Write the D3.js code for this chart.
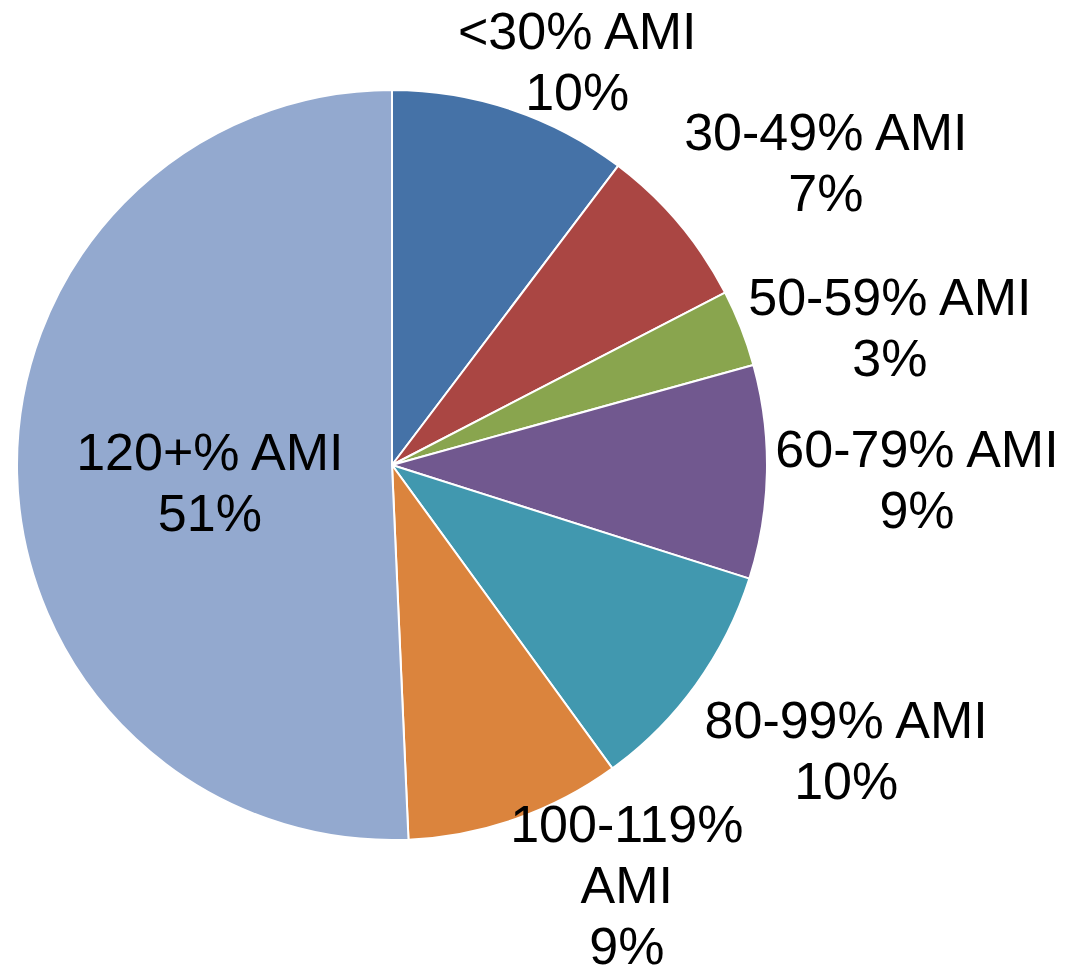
<!DOCTYPE html>
<html>
<head>
<meta charset="utf-8">
<script src="https://cdn.jsdelivr.net/npm/d3@7"></script>
<style>
  html, body { margin: 0; padding: 0; background: #fff; }
  svg { display: block; }
</style>
</head>
<body>
<svg id="chart" width="1068" height="967"></svg>
<script>
// ---- data ----
const categories = ["<30% AMI", "30-49% AMI", "50-59% AMI", "60-79% AMI", "80-99% AMI", "100-119% AMI", "120+% AMI"];
const values = [10.3, 7.1, 3.3, 9.2, 10.1, 9.3, 50.7];
const colors = ["#4572A7", "#AA4643", "#89A54E", "#71588F", "#4198AF", "#DB843D", "#93A9CF"];

// ---- layout (label placement: polar angle in degrees clockwise from top, distance in radius units) ----
const labelPolar = [[24.0, 1.214], [54.0, 1.430], [73.2, 1.387], [90.2, 1.400], [121.0, 1.413], [148.1, 1.185], [268.4, 0.486]];
const labelWrap = [false, false, false, false, false, true, false];

const W = 1068, H = 967;
const cx = 392, cy = 465, R = 375;
const fontSize = 52, lineH = 61;

const svg = d3.select("#chart");
const total = d3.sum(values);
const data = categories.map((c, i) => ({ name: c, value: values[i], color: colors[i], i }));

const pie = d3.pie().sort(null).value(d => d.value).startAngle(0).endAngle(2 * Math.PI);
const arc = d3.arc().innerRadius(0).outerRadius(R);
const arcs = pie(data);

const g = svg.append("g").attr("transform", `translate(${cx},${cy})`);

g.selectAll("path.slice")
  .data(arcs)
  .enter().append("path")
  .attr("class", "slice")
  .attr("d", arc)
  .attr("fill", d => d.data.color)
  .attr("stroke", "#ffffff")
  .attr("stroke-width", 2)
  .attr("stroke-linejoin", "round");

const fmt = d3.format(".0%");

const labels = g.selectAll("text.lbl")
  .data(arcs)
  .enter().append("text")
  .attr("class", "lbl")
  .attr("text-anchor", "middle")
  .attr("font-family", "Liberation Sans, Arial, sans-serif")
  .attr("font-size", fontSize)
  .attr("fill", "#000")
  .each(function(d) {
    const i = d.data.i;
    const a = labelPolar[i][0] * Math.PI / 180;
    const r = labelPolar[i][1] * R;
    const x = Math.sin(a) * r;
    const y = -Math.cos(a) * r;
    let lines = labelWrap[i] ? d.data.name.split(" ") : [d.data.name];
    lines = lines.concat([fmt(d.data.value / total)]);
    const t = d3.select(this);
    lines.forEach((ln, k) => {
      t.append("tspan").attr("x", x).attr("y", y + k * lineH).text(ln);
    });
  });
</script>
</body>
</html>
